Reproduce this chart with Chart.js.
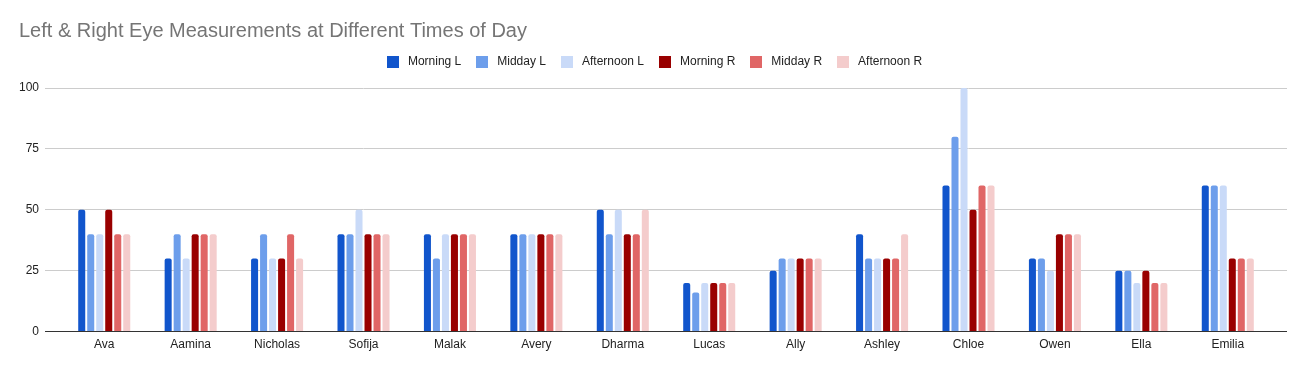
<!DOCTYPE html>
<html>
<head>
<meta charset="utf-8">
<script src="https://cdn.jsdelivr.net/npm/chart.js@4/dist/chart.umd.min.js"></script>
<style>
  html, body { margin: 0; padding: 0; background: #fff; }
  #wrap { width: 1305px; height: 371px; position: relative; }
</style>
</head>
<body>
<div id="wrap"><canvas id="chart"></canvas></div>
<script>
const names = ['Ava', 'Aamina', 'Nicholas', 'Sofija', 'Malak', 'Avery', 'Dharma', 'Lucas', 'Ally', 'Ashley', 'Chloe', 'Owen', 'Ella', 'Emilia'];

const morningL   = [50, 30, 30, 40, 40, 40, 50, 20, 25, 40, 60, 30, 25, 60];
const middayL    = [40, 40, 40, 40, 30, 40, 40, 16, 30, 30, 80, 30, 25, 60];
const afternoonL = [40, 30, 30, 50, 40, 40, 50, 20, 30, 30, 100, 25, 20, 60];
const morningR   = [50, 40, 30, 40, 40, 40, 40, 20, 30, 30, 50, 40, 25, 30];
const middayR    = [40, 40, 40, 40, 40, 40, 40, 20, 30, 30, 60, 40, 20, 30];
const afternoonR = [40, 40, 30, 40, 40, 40, 50, 20, 30, 40, 60, 40, 20, 30];

const yTicks = [0, 25, 50, 75, 100];

const series = [
    { label: 'Morning L', data: morningL, color: '#1155cc' },
    { label: 'Midday L', data: middayL, color: '#6d9eeb' },
    { label: 'Afternoon L', data: afternoonL, color: '#c9daf8' },
    { label: 'Morning R', data: morningR, color: '#990000' },
    { label: 'Midday R', data: middayR, color: '#e06666' },
    { label: 'Afternoon R', data: afternoonR, color: '#f4cccc' }
];

const FONT = 'Arial, "Liberation Sans", sans-serif';

// small square swatches for the legend (keeps a wider gap before the text)
function swatch(color) {
    const c = document.createElement('canvas');
    c.width = 12;
    c.height = 12;
    const g = c.getContext('2d');
    g.fillStyle = color;
    g.fillRect(0, 0, 12, 12);
    return c;
}
const swatches = series.map(s => swatch(s.color));

const lineColor = ctx => (ctx.tick && ctx.tick.value === 0 ? '#333333' : '#cccccc');
const setTicks = axis => {
    axis.ticks = yTicks.map(v => ({ value: v }));
};

const legendHeight = {
    id: 'legendHeight',
    beforeInit(chart) {
        const fit = chart.legend.fit;
        chart.legend.fit = function () {
            fit.call(this);
            this.height = 44;
        };
    }
};

const ctx = document.getElementById('chart').getContext('2d');
new Chart(ctx, {
    type: 'bar',
    data: {
        labels: names,
        datasets: series.map(s => ({
            label: s.label,
            data: s.data,
            backgroundColor: s.color,
            borderWidth: 0,
            borderRadius: { topLeft: 2, topRight: 2 },
            borderSkipped: 'bottom',
            categoryPercentage: 0.625,
            barPercentage: 0.78
        }))
    },
    options: {
        responsive: true,
        maintainAspectRatio: false,
        animation: false,
        layout: {
            padding: { left: 19, right: 18, top: 0, bottom: 13 }
        },
        plugins: {
            title: {
                display: true,
                text: 'Left & Right Eye Measurements at Different Times of Day',
                align: 'start',
                color: '#757575',
                font: { family: FONT, size: 20, weight: 'normal' },
                padding: { top: 19, bottom: 1 }
            },
            legend: {
                position: 'top',
                align: 'center',
                labels: {
                    color: '#222',
                    font: { family: FONT, size: 12 },
                    usePointStyle: true,
                    pointStyleWidth: 18,
                    boxHeight: 12,
                    padding: 12,
                    generateLabels: chart => {
                        const items = Chart.defaults.plugins.legend.labels.generateLabels(chart);
                        items.forEach((item, i) => { item.pointStyle = swatches[i]; });
                        return items;
                    }
                }
            },
            tooltip: { enabled: false }
        },
        scales: {
            x: {
                grid: { display: false, drawTicks: false },
                border: { color: '#333333', width: 1 },
                ticks: {
                    color: '#222',
                    font: { family: FONT, size: 12 },
                    maxRotation: 0,
                    padding: 6
                }
            },
            y: {
                min: 0,
                max: 100,
                afterBuildTicks: setTicks,
                afterFit: axis => { axis.width -= 6; },
                grid: { color: lineColor, tickColor: lineColor, drawTicks: true, tickLength: 16 },
                border: { display: false },
                ticks: {
                    color: '#222',
                    font: { family: FONT, size: 12 },
                    padding: 6
                }
            },
            y2: {
                position: 'right',
                min: 0,
                max: 100,
                afterBuildTicks: setTicks,
                grid: { drawOnChartArea: false, tickColor: lineColor, drawTicks: true, tickLength: 16 },
                border: { display: false },
                ticks: { display: false }
            }
        }
    },
    plugins: [legendHeight]
});
</script>
</body>
</html>
